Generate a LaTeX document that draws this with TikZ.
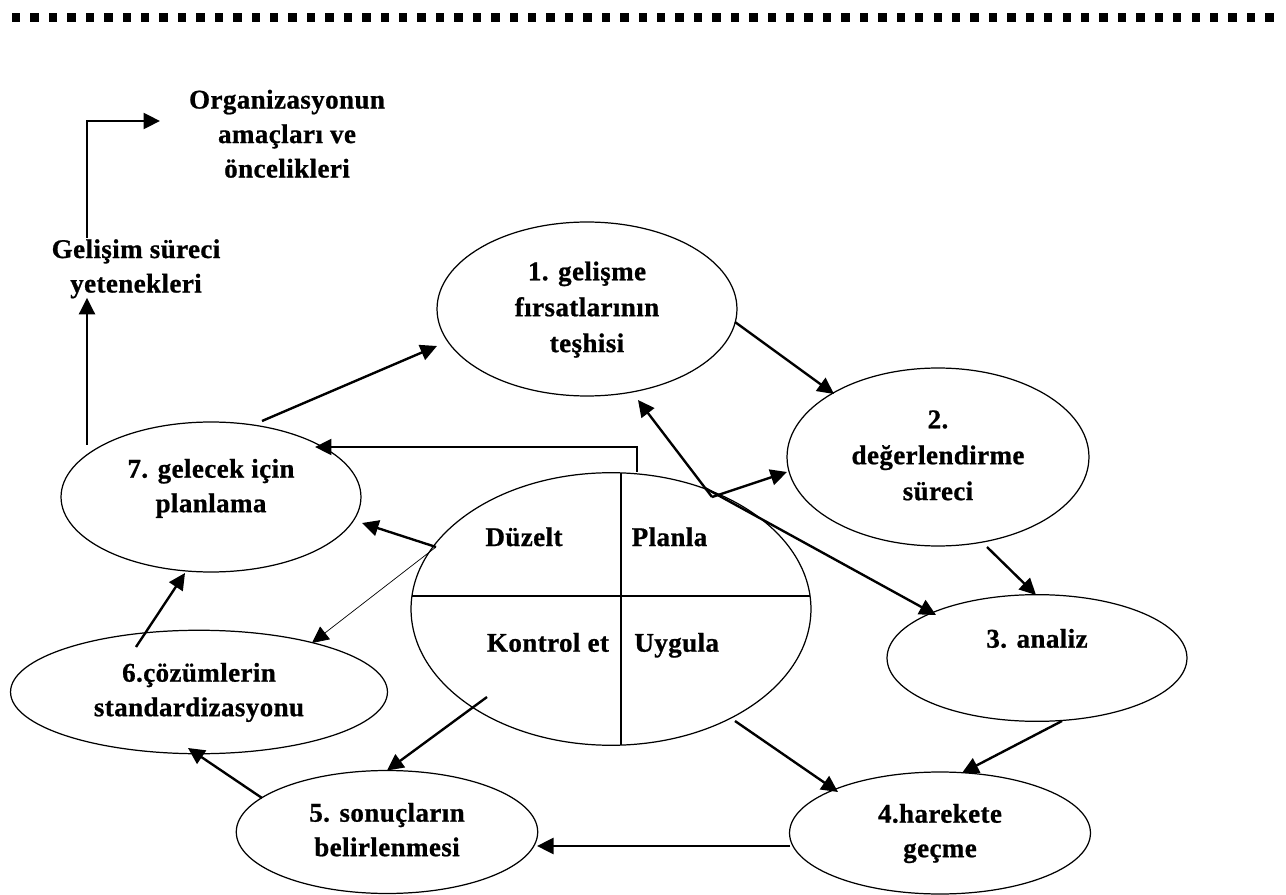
\documentclass[tikz,border=0pt]{standalone}
\usepackage{fontspec}
\setmainfont{Liberation Serif}[LetterSpace=1.5,FakeBold=0.8]
\usetikzlibrary{shapes.geometric,arrows.meta,calc}
\newcommand\dgfont{\fontsize{15.37pt}{19.64pt}\selectfont\bfseries}
\newcommand\dgfontw{\fontsize{15.37pt}{20.45pt}\selectfont\bfseries}
\tikzset{
  ell/.style={ellipse, draw, line width=0.7pt, inner sep=0pt, outer sep=0pt, align=center, font=\dgfont},
  txt/.style={inner sep=0pt, outer sep=0pt, align=center, font=\dgfont},
  lab/.style={inner sep=0pt, outer sep=0pt, font=\dgfont, anchor=base},
  arr/.style={line width=1.35pt, -{Triangle[length=0.33cm,width=0.32cm]}},
  thinarr/.style={line width=0.4pt, -{Triangle[length=0.33cm,width=0.32cm]}},
  divider/.style={line width=1.1pt},
}
\begin{document}
\begin{tikzpicture}[x=0.02cm, y=-0.02cm]
\useasboundingbox (0,0) rectangle (1286,895);
% top dashed border
\foreach \i in {0,...,68} \fill ({12+18.43*\i},13) rectangle ++(8.4,9.5);

% free texts
\node[txt, anchor=north] (org) at (287,84.35) {\strut Organizasyonun\\amaçları ve\\öncelikleri};
\node[txt, anchor=north] (gel) at (136,233.85) {\strut Gelişim süreci\\yetenekleri\strut};

% ellipses
\node[ell, font=\dgfontw, minimum width=6cm, minimum height=3.48cm] (e1) at (587,309)
  {\strut 1. gelişme\\\strut fırsatlarının\\\strut teşhisi};
\node[ell, font=\dgfontw, minimum width=6.04cm, minimum height=3.56cm] (e2) at (938,457)
  {\strut 2.\\\strut değerlendirme\\\strut süreci};
\node[ell, minimum width=6cm, minimum height=2.534cm] (e3) at (1037,658)
  {\strut 3. analiz\\\strut};
\node[ell, minimum width=6.02cm, minimum height=2.44cm] (e4) at (940,833)
  {\strut 4.harekete\\\strut geçme};
\node[ell, minimum width=6.03cm, minimum height=2.46cm] (e5) at (387,832)
  {\strut 5. sonuçların\\\strut belirlenmesi};
\node[ell, minimum width=7.54cm, minimum height=2.47cm] (e6) at (199,692)
  {\strut 6.çözümlerin\\\strut standardizasyonu};
\node[ell, minimum width=6cm, minimum height=3cm] (e7) at (211,497) {};
\node[txt] (t7) at (211,488) {\strut 7. gelecek için\\\strut planlama};

% central PDCA ellipse
\node[ell, minimum width=8cm, minimum height=5.452cm] (ec) at (611,609) {};
\draw[divider] ($(ec.center)+(-199,-13)$) -- ($(ec.center)+(199,-13)$);
\draw[divider] ($(ec.center)+(10,-136)$) -- ($(ec.center)+(10,136)$);
\node[lab] (q1) at (524,546) {Düzelt};
\node[lab] (q2) at (669.5,546) {Planla};
\node[lab] (q3) at (548,651.7) {Kontrol et};
\node[lab] (q4) at (676.7,651.7) {Uygula};

% connectors
\draw[arr] ($(gel.north)+(-49,4)$) |- ($(org.north)+(-127,36.65)$);
\draw[arr] ($(e7.center)+(-124,-52)$) -- ($(gel.south)+(-49,-5)$);
\draw[arr] ($(e7.center)+(51,-76)$) -- ($(e1.center)+(-150,37)$);
\draw[arr] ($(e1.center)+(148,13)$) -- ($(e2.center)+(-104,-63)$);
\draw[arr] ($(e2.center)+(49,90)$) -- ($(e3.center)+(-1,-63)$);
\draw[arr] ($(e3.center)+(25,63)$) -- ($(e4.center)+(22,-60)$);
\draw[arr] ($(e4.center)+(-150,13)$) -- ($(e5.center)+(150,14)$);
\draw[arr] ($(e5.center)+(-125,-34)$) -- ($(e6.center)+(-11,56)$);
\draw[arr] ($(e6.center)+(-63,-45)$) -- ($(e7.center)+(-26,76)$);
\coordinate (cl) at ($(ec.center)+(-175,-62)$);
\draw[arr] (cl) -- ($(e7.center)+(151,26)$);
\draw[thinarr] (cl) -- ($(e6.center)+(113,-49)$);
\draw[arr] ($(ec.center)+(26,-137)$) |- ($(e7.center)+(104,-50)$);
\draw[arr] ($(ec.center)+(-124,88)$) -- (e5.north);
\draw[arr] ($(ec.center)+(124,112)$) -- ($(e4.center)+(-102,-41)$);
\coordinate (cv) at ($(ec.center)+(101,-112)$);
\draw[arr] (cv) -- ($(e1.center)+(51,91)$);
\draw[arr] (cv) -- ($(e2.center)+(-151,15)$);
\draw[arr] ($(ec.center)+(94.5,-120.7)$) -- ($(e3.center)+(-101,-43)$);
\end{tikzpicture}
\end{document}
